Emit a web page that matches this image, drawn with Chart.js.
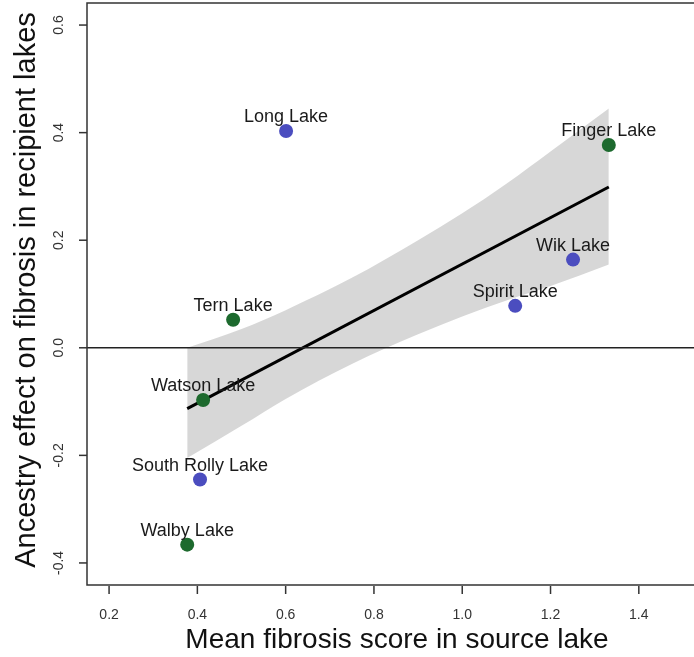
<!DOCTYPE html>
<html>
<head>
<meta charset="utf-8">
<script src="https://cdn.jsdelivr.net/npm/chart.js@4/dist/chart.umd.min.js"></script>
<style>
  body { margin: 0; background: #fff; }
  #wrap { width: 694px; height: 657px; }
</style>
</head>
<body>
<div id="wrap"><canvas id="myChart" width="694" height="657"></canvas></div>
<script>
'use strict';

// lakes and values
const lakes = ['Long Lake', 'Finger Lake', 'Wik Lake', 'Spirit Lake', 'Tern Lake', 'Watson Lake', 'South Rolly Lake', 'Walby Lake'];
const sourceScore = [0.601, 1.332, 1.251, 1.12, 0.481, 0.413, 0.406, 0.377];
const ancestryEffect = [0.403, 0.377, 0.164, 0.078, 0.052, -0.097, -0.245, -0.366];
const lakeGroup = ['blue', 'green', 'blue', 'blue', 'green', 'green', 'blue', 'green'];

// fitted line and its shaded band
const fitX = [0.377, 1.332];
const fitY = [-0.113, 0.299];
const bandX = [0.377, 0.5, 0.6, 0.75, 0.9, 1.0, 1.1, 1.2, 1.332];
const bandUpper = [0.0, 0.035, 0.07, 0.13, 0.2, 0.25, 0.305, 0.365, 0.445];
const bandLower = [-0.205, -0.145, -0.095, -0.03, 0.025, 0.058, 0.088, 0.115, 0.155];

const xTicks = [0.2, 0.4, 0.6, 0.8, 1.0, 1.2, 1.4];
const yTicks = [-0.4, -0.2, 0.0, 0.2, 0.4, 0.6];

const colors = { blue: '#4b4dbf', green: '#1d6a2e' };

const pts = (xs, ys) => xs.map((x, i) => ({ x: x, y: ys[i] }));
const groupPoints = (g) => lakes
	.map((name, i) => ({ x: sourceScore[i], y: ancestryEffect[i], name: name, g: lakeGroup[i] }))
	.filter(p => p.g === g);

const axesPlugin = {
	id: 'rAxes',
	afterDatasetsDraw(chart) {
		const { ctx, chartArea: a, scales: { x, y } } = chart;
		ctx.save();

		// zero line
		ctx.strokeStyle = '#222';
		ctx.lineWidth = 1.5;
		const y0 = y.getPixelForValue(0);
		ctx.beginPath();
		ctx.moveTo(a.left, y0);
		ctx.lineTo(a.right, y0);
		ctx.stroke();

		// point labels
		ctx.fillStyle = '#1a1a1a';
		ctx.font = '18px "Liberation Sans", Arial, sans-serif';
		ctx.textAlign = 'center';
		ctx.textBaseline = 'alphabetic';
		chart.data.datasets.forEach((ds, di) => {
			if (!ds.isLakes) return;
			chart.getDatasetMeta(di).data.forEach((el, i) => {
				ctx.fillText(ds.data[i].name, el.x, el.y - 9);
			});
		});

		// box
		ctx.strokeStyle = '#333';
		ctx.lineWidth = 1.5;
		ctx.beginPath();
		ctx.moveTo(a.right + 2, a.top);
		ctx.lineTo(a.left, a.top);
		ctx.lineTo(a.left, a.bottom);
		ctx.lineTo(a.right + 2, a.bottom);
		ctx.stroke();

		// x ticks
		ctx.font = '14px "Liberation Sans", Arial, sans-serif';
		ctx.fillStyle = '#333';
		ctx.textBaseline = 'middle';
		xTicks.forEach(v => {
			const px = x.getPixelForValue(v);
			ctx.beginPath();
			ctx.moveTo(px, a.bottom + 1);
			ctx.lineTo(px, a.bottom + 9);
			ctx.stroke();
			ctx.fillText(v.toFixed(1), px, 615);
		});

		// y ticks (rotated labels)
		yTicks.forEach(v => {
			const py = y.getPixelForValue(v);
			ctx.beginPath();
			ctx.moveTo(a.left - 8, py);
			ctx.lineTo(a.left, py);
			ctx.stroke();
			ctx.save();
			ctx.translate(59, py);
			ctx.rotate(-Math.PI / 2);
			ctx.fillText(v.toFixed(1), 0, 0);
			ctx.restore();
		});

		// titles
		ctx.fillStyle = '#111';
		ctx.font = '28px "Liberation Sans", Arial, sans-serif';
		ctx.textBaseline = 'alphabetic';
		ctx.fillText('Mean fibrosis score in source lake', 397, 648);
		ctx.save();
		ctx.translate(35, 290);
		ctx.rotate(-Math.PI / 2);
		ctx.font = '29px "Liberation Sans", Arial, sans-serif';
		ctx.fillText('Ancestry effect on fibrosis in recipient lakes', 0, 0);
		ctx.restore();

		ctx.restore();
	},
};

const ctx = document.getElementById('myChart').getContext('2d');

const myChart = new Chart(ctx, {
	type: 'line',
	data: {
		datasets: [
			{
				data: groupPoints('blue'),
				isLakes: true,
				showLine: false,
				pointRadius: 7,
				pointBackgroundColor: colors.blue,
				pointBorderWidth: 0,
				order: 0,
			},
			{
				data: groupPoints('green'),
				isLakes: true,
				showLine: false,
				pointRadius: 7,
				pointBackgroundColor: colors.green,
				pointBorderWidth: 0,
				order: 0,
			},
			{
				data: pts(fitX, fitY),
				borderColor: '#000',
				borderWidth: 3,
				pointRadius: 0,
				order: 1,
			},
			{
				data: pts(bandX, bandUpper),
				borderWidth: 0,
				pointRadius: 0,
				fill: '+1',
				backgroundColor: 'rgba(205,205,205,0.8)',
				cubicInterpolationMode: 'monotone',
				order: 2,
			},
			{
				data: pts(bandX, bandLower),
				borderWidth: 0,
				pointRadius: 0,
				fill: false,
				cubicInterpolationMode: 'monotone',
				order: 3,
			},
		],
	},
	options: {
		responsive: false,
		animation: false,
		layout: { autoPadding: false, padding: { left: 87, top: 3, right: 0, bottom: 72 } },
		plugins: {
			legend: { display: false },
			tooltip: { enabled: false },
		},
		scales: {
			x: { type: 'linear', min: 0.15, max: 1.525, display: false },
			y: { type: 'linear', min: -0.441, max: 0.641, display: false },
		},
	},
	plugins: [axesPlugin],
});
</script>
</body>
</html>
